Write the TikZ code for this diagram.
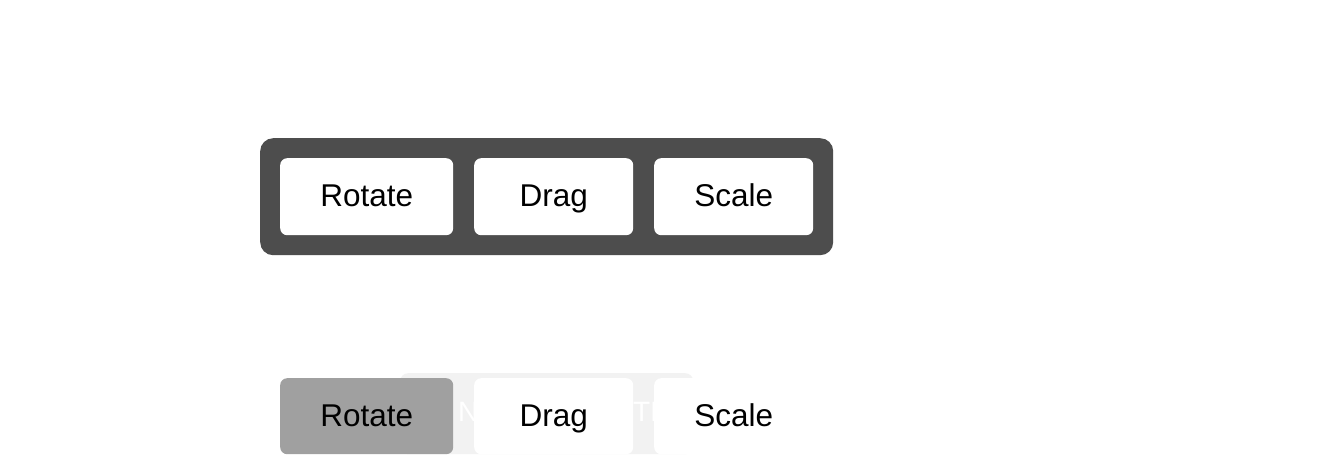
\documentclass[tikz,border=0pt]{standalone}
\usepackage{fontspec}
\setmainfont{Liberation Sans}
\definecolor{darkbar}{HTML}{4D4D4D}
\definecolor{activebtn}{HTML}{A0A0A0}
\definecolor{faintbg}{HTML}{F2F2F2}
\begin{document}
\begin{tikzpicture}[x=1pt,y=-1pt,
  btn/.style={fill=white,rounded corners=7pt,inner sep=0pt,anchor=north west},
  lbl/.style={font=\fontsize{31.5}{36}\selectfont,text=black,inner sep=0pt,anchor=base},
  ghost/.style={font=\fontsize{28}{32}\selectfont,text=white,inner sep=0pt,anchor=base west}]
\useasboundingbox[fill=white] (0,0) rectangle (1318,472);
% top toolbar
\node[fill=darkbar,rounded corners=13pt,inner sep=0pt,anchor=north west,minimum width=573pt,minimum height=117pt] (bar) at (260,138) {};
\node[btn,minimum width=173pt,minimum height=77pt] (r1) at (280,158) {};
\node[btn,minimum width=159pt,minimum height=77pt] (d1) at (474,158) {};
\node[btn,minimum width=159pt,minimum height=77pt] (s1) at (654,158) {};
\node[lbl] (r1t) at (r1.center |- 0,206.5) {Rotate};
\node[lbl] (d1t) at (d1.center |- 0,206.5) {Drag};
\node[lbl] (s1t) at (s1.center |- 0,206.5) {Scale};
% bottom row
\node[fill=faintbg,rounded corners=8pt,inner sep=0pt,anchor=north west,minimum width=293pt,minimum height=81pt] (bg) at (400,373) {};
\node[ghost] (g1) at (458,421) {N};
\node[ghost] (g2) at (633,421) {TE};
\node[btn,fill=activebtn,minimum width=173pt,minimum height=76pt] (r2) at (280,378) {};
\node[btn,minimum width=159pt,minimum height=76pt] (d2) at (474,378) {};
\node[btn,minimum width=159pt,minimum height=76pt] (s2) at (654,378) {};
\node[lbl] (r2t) at (r2.center |- 0,426.5) {Rotate};
\node[lbl] (d2t) at (d2.center |- 0,426.5) {Drag};
\node[lbl] (s2t) at (s2.center |- 0,426.5) {Scale};
\end{tikzpicture}
\end{document}
